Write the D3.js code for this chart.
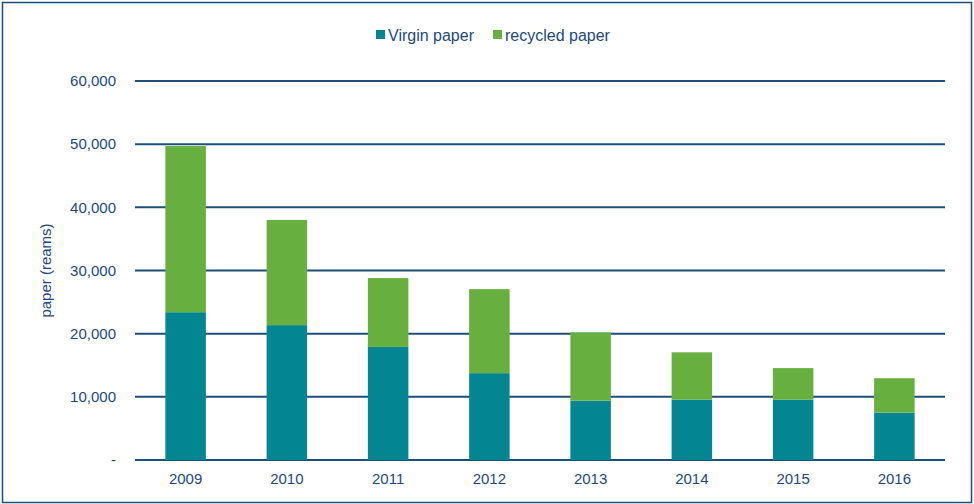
<!DOCTYPE html>
<html>
<head>
<meta charset="utf-8">
<script src="https://cdn.jsdelivr.net/npm/d3@7"></script>
<style>
  body { margin: 0; background: #fff; }
  text { font-family: "Liberation Sans", Arial, sans-serif; fill: #1f497d; }
</style>
</head>
<body>
<div id="chart"></div>
<script>
var years = ["2009", "2010", "2011", "2012", "2013", "2014", "2015", "2016"];
var virgin = [23400, 21350, 17900, 13750, 9400, 9550, 9550, 7500];
var recycled = [26300, 16650, 10900, 13300, 10800, 7500, 5000, 5450];
var seriesNames = ["Virgin paper", "recycled paper"];
var seriesColors = ["#038691", "#67b040"];
var yTicks = [0, 10000, 20000, 30000, 40000, 50000, 60000];

var W = 974, H = 504;
var margin = {top: 81, right: 29, bottom: 44, left: 135};

var svg = d3.select("#chart").append("svg")
    .attr("width", W)
    .attr("height", H);

// outer frame
svg.append("rect")
    .attr("x", 2.5).attr("y", 2.5)
    .attr("width", W - 5).attr("height", H - 4)
    .attr("fill", "none")
    .attr("stroke", "#1f4e79")
    .attr("stroke-width", 1.5);

var rows = years.map(function (y, i) {
    return {year: y, virgin: virgin[i], recycled: recycled[i]};
});
var stack = d3.stack().keys(["virgin", "recycled"])(rows);

var x = d3.scaleBand()
    .domain(years)
    .range([margin.left, W - margin.right])
    .paddingInner(0.6)
    .paddingOuter(0.3);

var y = d3.scaleLinear()
    .domain([0, 60000])
    .range([H - margin.bottom, margin.top]);

// gridlines
svg.append("g")
    .selectAll("line")
    .data(yTicks)
    .enter().append("line")
    .attr("x1", margin.left)
    .attr("x2", W - margin.right)
    .attr("y1", function (d) { return y(d); })
    .attr("y2", function (d) { return y(d); })
    .attr("stroke", "#1f4e79")
    .attr("stroke-width", 2);

// y tick labels
svg.append("g")
    .selectAll("text")
    .data(yTicks)
    .enter().append("text")
    .attr("x", 116)
    .attr("y", function (d) { return y(d); })
    .attr("dy", "0.35em")
    .attr("text-anchor", "end")
    .style("font-size", "15px")
    .text(function (d) { return d === 0 ? "-" : d3.format(",")(d); });

svg.append("text")
    .attr("transform", "translate(51," + ((margin.top + H - margin.bottom) / 2) + ") rotate(-90)")
    .attr("text-anchor", "middle")
    .style("font-size", "15px")
    .text("paper (reams)");

// bars
svg.append("g")
    .selectAll("g")
    .data(stack)
    .enter().append("g")
    .attr("fill", function (d, i) { return seriesColors[i]; })
    .selectAll("rect")
    .data(function (d) { return d; })
    .enter().append("rect")
    .attr("x", function (d) { return x(d.data.year); })
    .attr("width", x.bandwidth())
    .attr("y", function (d) { return y(d[1]); })
    .attr("height", function (d) { return y(d[0]) - y(d[1]); });

// x labels
svg.append("g")
    .selectAll("text")
    .data(years)
    .enter().append("text")
    .attr("x", function (d) { return x(d) + x.bandwidth() / 2; })
    .attr("y", 484)
    .attr("text-anchor", "middle")
    .style("font-size", "15px")
    .text(function (d) { return d; });

// legend
var legendX = [376, 493];
var legend = svg.append("g")
    .selectAll("g")
    .data(seriesNames)
    .enter().append("g")
    .attr("transform", function (d, i) { return "translate(" + legendX[i] + ",30)"; });
legend.append("rect")
    .attr("width", 9).attr("height", 9)
    .attr("fill", function (d, i) { return seriesColors[i]; });
legend.append("text")
    .attr("x", 12)
    .attr("y", 5)
    .attr("dy", "0.35em")
    .style("font-size", "16px")
    .text(function (d) { return d; });
</script>
</body>
</html>
